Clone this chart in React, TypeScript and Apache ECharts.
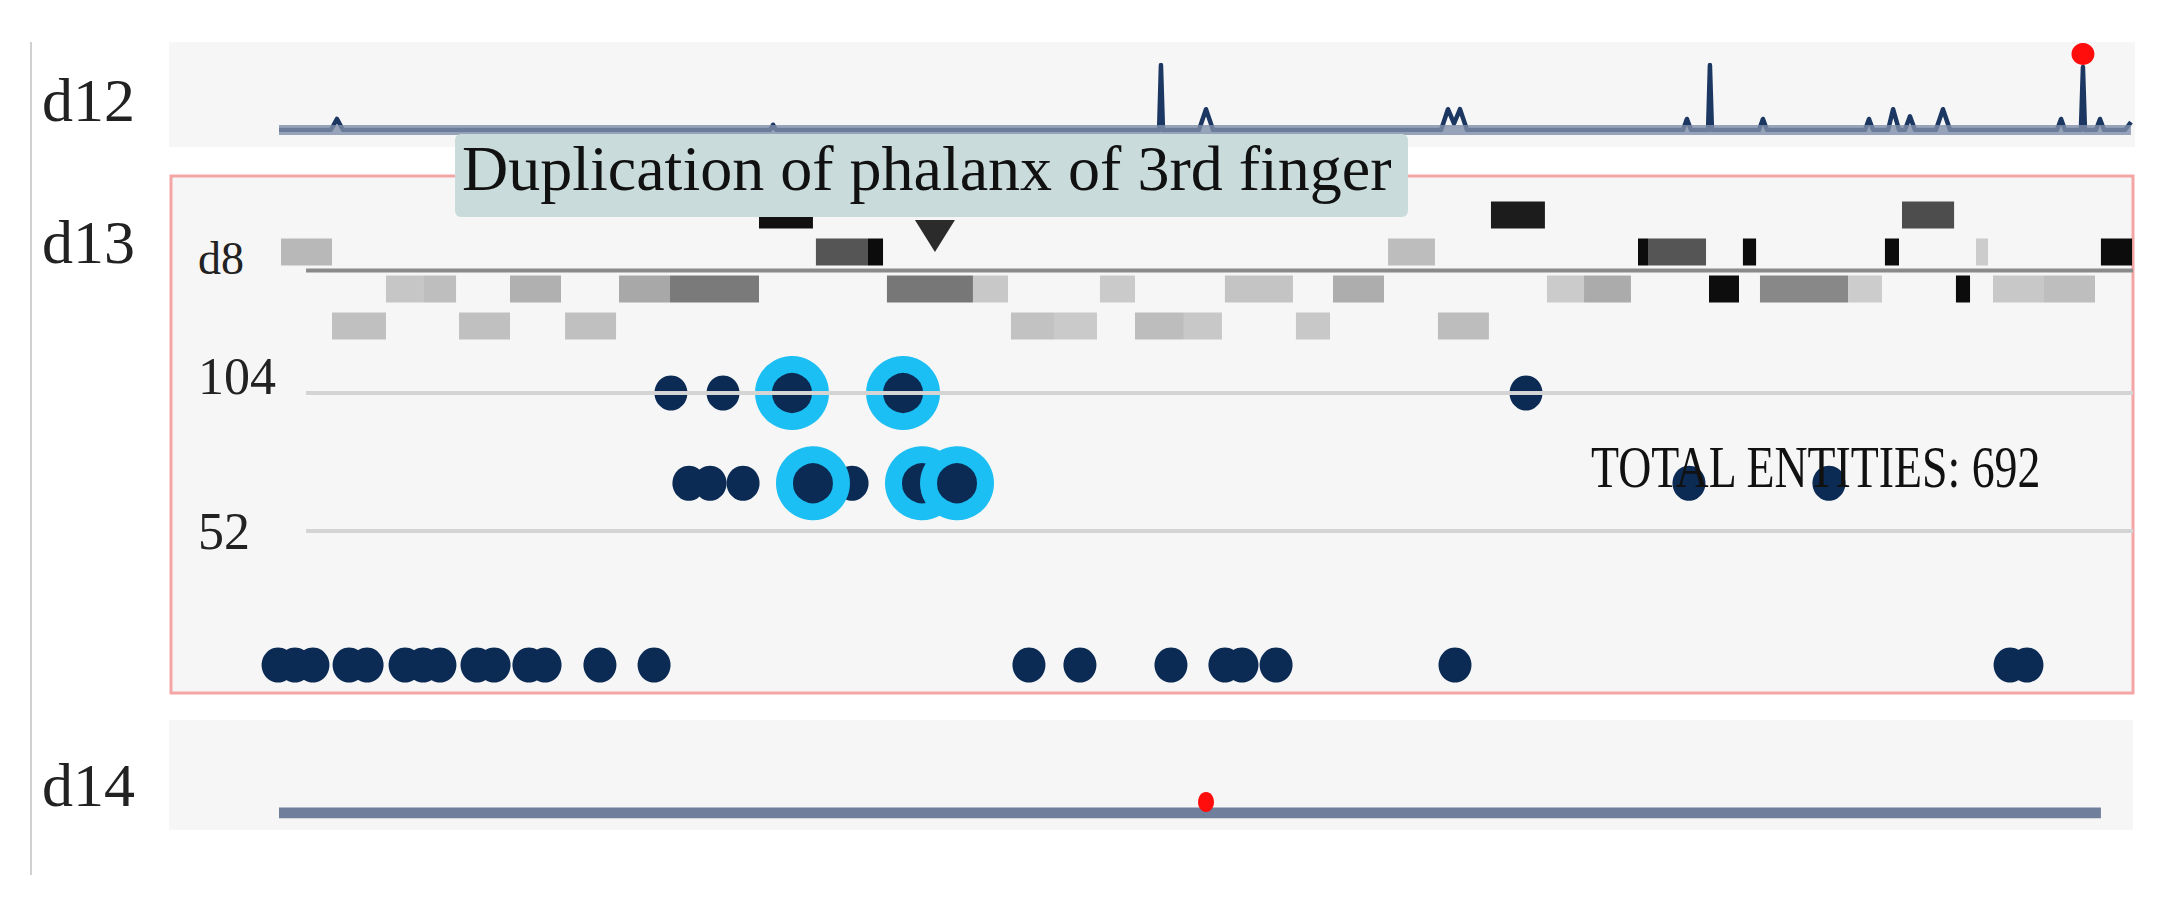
import React, { useEffect, useRef } from "react";
import * as echarts from "echarts";

// ---------- data ----------
// d12 signal track: [position, score]
const d12Signal: [number, number][] = [
  [0, 0], [28.0, 0], [31.3, 0.17], [34.5, 0], [264.9, 0], [266.5, 0.08], [268.1, 0],
  [474.7, 0], [475.7, 1.0], [476.8, 0], [496.2, 0], [500.0, 0.32], [503.8, 0],
  [626.8, 0], [630.5, 0.32], [633.8, 0.1], [637.0, 0.32], [640.8, 0],
  [757.3, 0], [759.4, 0.17], [761.6, 0], [770.8, 0], [771.8, 1.0], [772.9, 0],
  [798.3, 0], [800.4, 0.17], [802.6, 0], [855.5, 0], [857.6, 0.17], [859.8, 0],
  [867.9, 0], [870.6, 0.32], [873.8, 0], [877.0, 0], [879.7, 0.21], [882.4, 0],
  [893.7, 0], [897.5, 0.32], [901.3, 0], [959.0, 0], [961.2, 0.17], [963.3, 0],
  [971.9, 0], [973.0, 0.97], [974.1, 0], [980.0, 0], [982.2, 0.17], [984.4, 0],
  [995.7, 0], [998.9, 0.12],
];
const d12Baseline: [number, number][] = [[0, 0], [998.9, 0]];
const d12Marker: [number, number][] = [[973.0, 1.17]];

// d13 annotation blocks: [start, end, row, gray level]
const trackBlocks: [number, number, number, number][] = [
  [258.9, 288.0, 0, 17], [653.7, 682.8, 0, 28], [875.4, 903.5, 0, 77],
  [1.1, 28.6, 1, 184], [289.6, 317.7, 1, 85], [317.7, 325.8, 1, 12], [598.2, 623.5, 1, 189],
  [733.0, 738.4, 1, 12], [738.4, 769.7, 1, 85], [789.6, 796.7, 1, 12], [866.2, 873.8, 1, 12],
  [915.3, 921.8, 1, 204], [982.7, 999.5, 1, 12],
  [57.7, 78.2, 2, 198], [78.2, 95.5, 2, 190], [124.6, 152.1, 2, 176], [183.4, 210.9, 2, 168],
  [210.9, 258.9, 2, 122], [327.9, 374.3, 2, 119], [374.3, 393.2, 2, 200], [442.8, 461.7, 2, 202],
  [510.2, 546.9, 2, 196], [568.5, 596.0, 2, 173], [683.9, 703.9, 2, 203], [703.9, 729.2, 2, 171],
  [771.3, 787.5, 2, 13], [798.8, 846.3, 2, 136], [846.3, 864.6, 2, 204], [904.5, 912.1, 2, 12],
  [924.5, 952.0, 2, 200], [952.0, 979.5, 2, 190],
  [28.6, 57.7, 3, 192], [97.1, 124.6, 3, 192], [154.3, 181.8, 3, 192], [394.8, 418.0, 3, 194],
  [418.0, 441.2, 3, 202], [461.7, 488.1, 3, 189], [488.1, 508.6, 3, 200], [548.5, 566.9, 3, 200],
  [625.1, 652.6, 3, 189],
];
const trackLine: [number, number][] = [[14.6, 1.5], [1000, 1.5]];
const selectedMarker: [number, number][] = [[353.8, 0.57]];

// d13 entities: [position, count]
const entities: [number, number][] = [
  [211.4, 104], [239.5, 104], [672.6, 104],
  [221.1, 70], [232.5, 70], [250.3, 70], [309.1, 70], [760.5, 70], [836.0, 70],
  [-0.5, 1.5], [8.6, 1.5], [18.3, 1.5], [37.8, 1.5], [47.5, 1.5], [68.0, 1.5], [77.7, 1.5],
  [86.8, 1.5], [106.8, 1.5], [116.0, 1.5], [134.8, 1.5], [143.5, 1.5], [173.1, 1.5],
  [202.3, 1.5], [404.5, 1.5], [432.0, 1.5], [481.1, 1.5], [510.2, 1.5], [519.4, 1.5],
  [537.8, 1.5], [634.3, 1.5], [933.7, 1.5], [942.8, 1.5],
];
const highlightedEntities: [number, number][] = [
  [276.7, 104], [336.6, 104], [288.0, 70], [346.8, 70], [365.7, 70],
];
const countTicks = [52, 104];

// d14 track
const d14Signal: [number, number][] = [[0, 0], [982.7, 0]];
const d14Marker: [number, number][] = [[500.0, 0.55]];

const trackLabels = ["d12", "d13", "d14"];
const subTrackLabel = "d8";
const hoverLabel = "Duplication of phalanx of 3rd finger";
const totalLabel = "TOTAL ENTITIES: 692";

const SERIF = "'Liberation Serif', 'DejaVu Serif', serif";

export default function App() {
  const ref = useRef<HTMLDivElement>(null);
  useEffect(() => {
    const chart = echarts.init(ref.current!, null, { renderer: "svg" });
    const W = 2161;
    const left = 279;
    const right = W - 2133;
    const xAxisBase = { type: "value", min: 0, max: 1000, show: false };

    const option: any = {
      animation: false,
      backgroundColor: "#ffffff",
      grid: [
        { left, right, top: 65, height: 65 },
        { left, right, top: 196.5, height: 148 },
        { left, right, top: 393, height: 276 },
        { left, right, top: 793, height: 20 },
      ],
      xAxis: [0, 1, 2, 3].map((i) => ({ ...xAxisBase, gridIndex: i })),
      yAxis: [
        { gridIndex: 0, type: "value", min: 0, max: 1, show: false },
        { gridIndex: 1, type: "value", min: -0.5, max: 3.5, inverse: true, show: false },
        {
          gridIndex: 2,
          type: "value",
          min: 0,
          max: 104,
          interval: 52,
          axisLine: { show: false },
          axisTick: { show: false },
          splitLine: { show: false },
          axisLabel: {
            show: true,
            align: "left",
            margin: 81,
            formatter: (v: number) =>
              v === countTicks[1] ? `{a|${v}}` : v === countTicks[0] ? `{b|${v}}` : "",
            rich: {
              a: { fontFamily: SERIF, fontSize: 52, color: "#222", padding: [0, 0, 34, 0] },
              b: { fontFamily: SERIF, fontSize: 52, color: "#222" },
            },
          },
        },
        { gridIndex: 3, type: "value", min: 0, max: 1, show: false },
      ],
      series: [
        // d12
        {
          type: "line", xAxisIndex: 0, yAxisIndex: 0, data: d12Signal,
          symbol: "none", lineStyle: { color: "#1c3862", width: 4.5, join: "round" }, z: 3,
        },
        {
          type: "line", xAxisIndex: 0, yAxisIndex: 0, data: d12Baseline,
          symbol: "none", lineStyle: { color: "rgba(128,143,170,0.8)", width: 10 }, z: 4,
        },
        {
          type: "scatter", xAxisIndex: 0, yAxisIndex: 0, data: d12Marker,
          symbolSize: [23, 22], itemStyle: { color: "#ff0d0d", opacity: 1 }, clip: false, z: 5,
        },
        // d13 tracks
        {
          type: "custom", xAxisIndex: 1, yAxisIndex: 1, data: trackBlocks,
          encode: { x: [0, 1], y: 2 }, clip: false, z: 3,
          renderItem: (params: any, api: any) => {
            const p0 = api.coord([api.value(0), api.value(2)]);
            const p1 = api.coord([api.value(1), api.value(2)]);
            const g = api.value(3);
            const h = 27;
            return {
              type: "rect",
              shape: { x: p0[0], y: p0[1] - h / 2, width: p1[0] - p0[0], height: h },
              style: { fill: `rgb(${g},${g},${g})` },
            };
          },
        },
        {
          type: "line", xAxisIndex: 1, yAxisIndex: 1, data: trackLine,
          symbol: "none", lineStyle: { color: "#8a8a8a", width: 4 }, z: 2,
        },
        {
          type: "scatter", xAxisIndex: 1, yAxisIndex: 1, data: selectedMarker,
          symbol: "triangle", symbolRotate: 180, symbolSize: [40, 32],
          itemStyle: { color: "#2b2b2b", opacity: 1 }, z: 4,
        },
        // d13 entity dots
        {
          type: "line", xAxisIndex: 2, yAxisIndex: 2, data: [], z: 1,
          markLine: {
            silent: true, symbol: ["none", "none"], label: { show: false },
            lineStyle: { color: "#d4d4d4", width: 4, type: "solid" },
            data: countTicks.map((t) => [{ coord: [14.6, t] }, { coord: [1000, t] }]),
          },
        },
        {
          type: "scatter", xAxisIndex: 2, yAxisIndex: 2, data: entities,
          symbolSize: [33, 35], itemStyle: { color: "#0b2b55", opacity: 1 }, clip: false, z: 3,
        },
        {
          type: "scatter", xAxisIndex: 2, yAxisIndex: 2, data: highlightedEntities,
          symbolSize: 57, clip: false, z: 4,
          itemStyle: { color: "#0b2b55", borderColor: "#1cbff3", borderWidth: 17, opacity: 1 },
        },
        // d14
        {
          type: "line", xAxisIndex: 3, yAxisIndex: 3, data: d14Signal,
          symbol: "none", lineStyle: { color: "#6f7f9c", width: 11 }, z: 2,
        },
        {
          type: "scatter", xAxisIndex: 3, yAxisIndex: 3, data: d14Marker,
          symbolSize: [16, 20], itemStyle: { color: "#ff0d0d", opacity: 1 }, clip: false, z: 4,
        },
      ],
      graphic: [
        { type: "line", z: 0, shape: { x1: 31, y1: 42, x2: 31, y2: 875 }, style: { stroke: "#d0d0d0", lineWidth: 2 } },
        { type: "rect", z: 0, shape: { x: 169, y: 42, width: 1966, height: 105 }, style: { fill: "#f6f6f6" } },
        { type: "rect", z: 0, shape: { x: 171, y: 176, width: 1962, height: 517 }, style: { fill: "#f6f6f6", stroke: "#f4a6a6", lineWidth: 3 } },
        { type: "rect", z: 0, shape: { x: 169, y: 720, width: 1964, height: 110 }, style: { fill: "#f6f6f6" } },
        { type: "text", z: 1, x: 42, y: 100, style: { text: trackLabels[0], font: `62px ${SERIF}`, fill: "#222", verticalAlign: "middle" } },
        { type: "text", z: 1, x: 42, y: 242, style: { text: trackLabels[1], font: `62px ${SERIF}`, fill: "#222", verticalAlign: "middle" } },
        { type: "text", z: 1, x: 42, y: 785, style: { text: trackLabels[2], font: `62px ${SERIF}`, fill: "#222", verticalAlign: "middle" } },
        { type: "text", z: 1, x: 198, y: 258, style: { text: subTrackLabel, font: `46px ${SERIF}`, fill: "#222", verticalAlign: "middle" } },
        { type: "text", z: 10, x: 1591, y: 467, scaleX: 0.764, style: { text: totalLabel, font: `60px ${SERIF}`, fill: "#111", verticalAlign: "middle" } },
        { type: "rect", z: 100, shape: { x: 455, y: 134, width: 953, height: 83, r: 6 }, style: { fill: "#c9dbdb" } },
        { type: "text", z: 101, x: 462, y: 168, style: { text: hoverLabel, font: `64px ${SERIF}`, fill: "#111", verticalAlign: "middle" } },
      ],
    };
    chart.setOption(option);
    return () => chart.dispose();
  }, []);
  return (
    <div
      ref={ref}
      style={{ position: "absolute", left: 0, top: 0, width: 2161, height: 901 }}
    />
  );
}
